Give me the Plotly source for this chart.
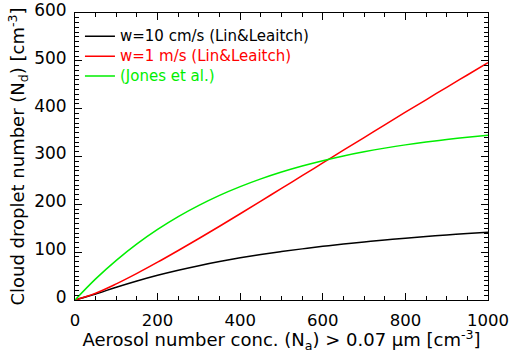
import plotly.graph_objects as go

# Aerosol number concentration (x), cm^-3
na = [0, 50, 100, 150, 200, 250, 300, 350, 400, 450, 500,
      550, 600, 650, 700, 750, 800, 850, 900, 950, 1000]

# w = 10 cm/s (Lin & Leaitch)
nd_w10 = [0, 12.5, 26.7, 39.8, 51.7, 62.3, 71.8, 80.3, 88.1, 95.0, 101.3,
          106.9, 112.2, 117.0, 121.5, 125.6, 129.3, 132.8, 136.0, 139.1, 141.8]

# w = 1 m/s (Lin & Leaitch)
nd_w100 = [0, 14.2, 33.7, 55.6, 79.0, 103.5, 128.6, 154.2, 180.3, 206.7, 233.4,
           259.8, 286.5, 313.2, 339.6, 366.3, 392.6, 418.6, 444.7, 470.4, 496.2]

# Jones et al.
nd_jones = [0, 44.1, 82.9, 117.3, 147.5, 174.3, 197.8, 218.7, 237.0, 253.2, 267.6,
            280.2, 291.3, 301.2, 309.8, 317.5, 324.3, 330.2, 335.5, 340.1, 344.2]

series = [
    ("w=10 cm/s (Lin&Leaitch)", nd_w10, "#000000"),
    ("w=1 m/s (Lin&Leaitch)", nd_w100, "#ff0000"),
    ("(Jones et al.)", nd_jones, "#00ee00"),
]

fig = go.Figure()
for name, ys, col in series:
    fig.add_trace(go.Scatter(
        x=na, y=ys, mode="lines", line=dict(color=col, width=1.5, shape="spline"),
        name=f'<span style="color:{col};font-size:15px">{name}</span>'))

font = "DejaVu Sans"
fig.update_layout(
    width=509, height=353,
    margin=dict(l=75, r=21, t=13, b=53, autoexpand=False),
    paper_bgcolor="white", plot_bgcolor="white",
    font=dict(family=font, color="black", size=15),
    showlegend=True,
    legend=dict(x=0.012, y=0.971, xanchor="left", yanchor="top",
                bgcolor="rgba(0,0,0,0)", font=dict(size=13, family=font),
                tracegroupgap=0, itemwidth=30),
    xaxis=dict(range=[0, 1000], tickmode="array", tickvals=[0, 200, 400, 600, 800, 1000],
               ticks="inside", ticklen=7, tickcolor="black", showline=True,
               linecolor="black", linewidth=1, mirror="ticks", showgrid=False, zeroline=False,
               tickfont=dict(size=16.5), ticklabelstandoff=5, ticklabeloverflow="allow",
               automargin=True,
               minor=dict(dtick=50, ticks="inside", ticklen=4, tickcolor="black", showgrid=False),
               title=dict(text="Aerosol number conc. (N<sub>a</sub>) > 0.07 μm [cm<sup>-3</sup>]",
                          font=dict(size=18), standoff=9)),
    yaxis=dict(range=[0, 600], tickmode="array", tickvals=[0, 100, 200, 300, 400, 500, 600],
               ticks="inside", ticklen=7, tickcolor="black", showline=True,
               linecolor="black", linewidth=1, mirror="ticks", showgrid=False, zeroline=False,
               tickfont=dict(size=17), ticklabelstandoff=4, ticklabelshift=-3,
               ticklabeloverflow="allow", automargin=True,
               minor=dict(dtick=10, ticks="inside", ticklen=4, tickcolor="black", showgrid=False),
               title=dict(text="Cloud droplet number (N<sub>d</sub>) [cm<sup>-3</sup>]",
                          font=dict(size=18), standoff=4)),
)

fig.write_html("out.html")
